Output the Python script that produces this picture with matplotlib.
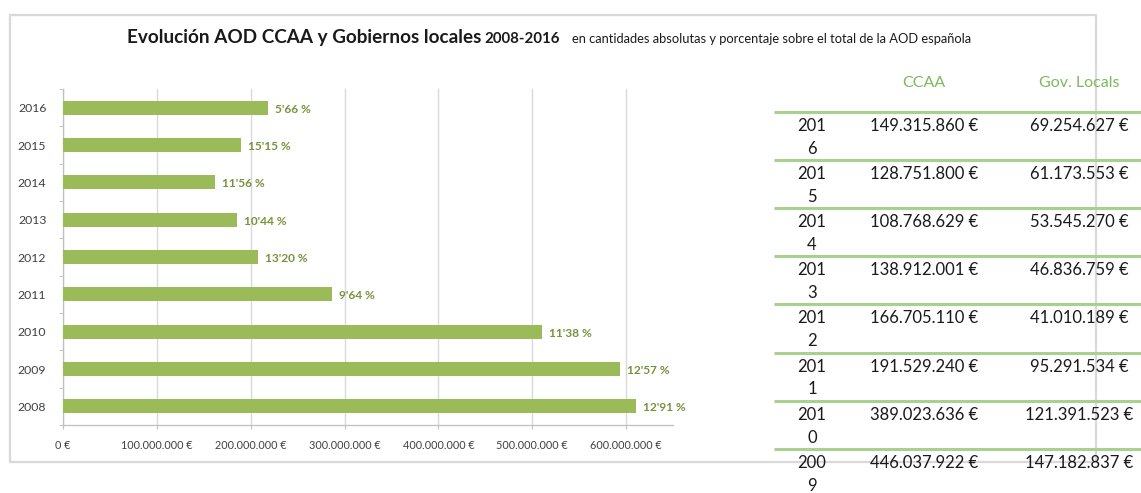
import numpy as np
import matplotlib
matplotlib.use("Agg")
import matplotlib.pyplot as plt
from matplotlib.patches import Rectangle
from matplotlib.ticker import FuncFormatter, MultipleLocator

plt.rcParams["font.family"] = ["Lato", "DejaVu Sans"]

# Data
years = [2008, 2009, 2010, 2011, 2012, 2013, 2014, 2015, 2016]
pct_labels = ["12'91 %", "12'57 %", "11'38 %", "9'64 %", "13'20 %",
              "10'44 %", "11'56 %", "15'15 %", "5'66 %"]

# table rows (top to bottom), 2008 row is not visible in the source
table_years = ["2016", "2015", "2014", "2013", "2012", "2011", "2010", "2009"]
ccaa = [149315860, 128751800, 108768629, 138912001, 166705110,
        191529240, 389023636, 446037922]
gov_locals = [69254627, 61173553, 53545270, 46836759, 41010189,
              95291534, 121391523, 147182837]
total_2008 = 611_000_000  # no table row for it

totals = [total_2008] + [c + g for c, g in zip(ccaa, gov_locals)][::-1]

BAR = "#9bbb59"
LABEL = "#76923c"
GRID = "#d9d9d9"
AXIS = "#bfbfbf"
TXT = "#404040"
TABLE_GREEN = "#a9d08e"
HEAD_GREEN = "#7cba5a"

W, H = 1141, 493
fig = plt.figure(figsize=(W / 100, H / 100), dpi=100)

# bar chart
ax = fig.add_axes([63 / W, 1 - 425 / H, 610 / W, 336 / H])
pos = np.arange(len(years))
ax.barh(pos, totals, height=0.38, color=BAR, zorder=3)
for p, v, lab in zip(pos, totals, pct_labels):
    ax.annotate(lab, (v, p), xytext=(5, -1), textcoords="offset points",
                va="center", ha="left", fontsize=8.6, fontweight="bold",
                color=LABEL)

ax.set_xlim(0, 650_000_000)
ax.set_ylim(-0.5, len(years) - 0.5)
ax.xaxis.set_major_locator(MultipleLocator(100_000_000))
ax.xaxis.set_major_formatter(FuncFormatter(
    lambda x, _: f"{int(x):,} €".replace(",", ".")))
ax.set_yticks(pos)
ax.set_yticklabels([str(y) for y in years])
ax.set_yticks(np.arange(-0.5, len(years)), minor=True)
ax.grid(axis="x", color=GRID, linewidth=1, zorder=0)
for s in ["top", "right"]:
    ax.spines[s].set_visible(False)
for s in ["left", "bottom"]:
    ax.spines[s].set_color(AXIS)
    ax.spines[s].set_linewidth(0.9)
ax.tick_params(axis="y", which="major", length=0, labelsize=8.8,
               labelcolor=TXT, pad=12)
ax.tick_params(axis="y", which="minor", length=3, color=AXIS)
ax.tick_params(axis="x", length=3, color=AXIS, labelsize=7.8,
               labelcolor=TXT, pad=8)

# overlay in pixel coordinates for frame, title and table
ov = fig.add_axes([0, 0, 1, 1], zorder=5)
ov.set_xlim(0, W)
ov.set_ylim(H, 0)
ov.axis("off")
ov.patch.set_alpha(0)

ov.add_patch(Rectangle((10, 15), 1086, 447, fill=False,
                       edgecolor=GRID, linewidth=1.6))

ov.text(127, 43, "Evolución AOD CCAA y Gobiernos locales", fontsize=13.6,
        fontweight="bold", color="#1a1a1a", va="baseline")
ov.text(484, 43, "2008-2016", fontsize=10.8, fontweight="bold",
        color="#1a1a1a", va="baseline")
ov.text(572, 43, "en cantidades absolutas y porcentaje sobre el total de la AOD española",
        fontsize=9.3, color="#1a1a1a", va="baseline")

ov.text(924, 83, "CCAA", fontsize=11.5, color=HEAD_GREEN, ha="center", va="center")
ov.text(1079, 83, "Gov. Locals", fontsize=11.5, color=HEAD_GREEN,
        ha="center", va="center")

fmt = lambda v: f"{v:,} €".replace(",", ".")
row_h = 48.1
for i, (yr, c, g) in enumerate(zip(table_years, ccaa, gov_locals)):
    top = 112 + i * row_h
    ov.plot([774, W], [top, top], color=TABLE_GREEN, linewidth=2.2,
            solid_capstyle="butt")
    ov.text(812, top + 14, yr[:3], fontsize=12, color="#1a1a1a",
            ha="center", va="center")
    ov.text(812, top + 37, yr[3:], fontsize=12, color="#1a1a1a",
            ha="center", va="center")
    ov.text(924, top + 14, fmt(c), fontsize=12, color="#1a1a1a",
            ha="center", va="center")
    ov.text(1079, top + 14, fmt(g), fontsize=12, color="#1a1a1a",
            ha="center", va="center")

fig.savefig("out.png", dpi=100, facecolor="white")
